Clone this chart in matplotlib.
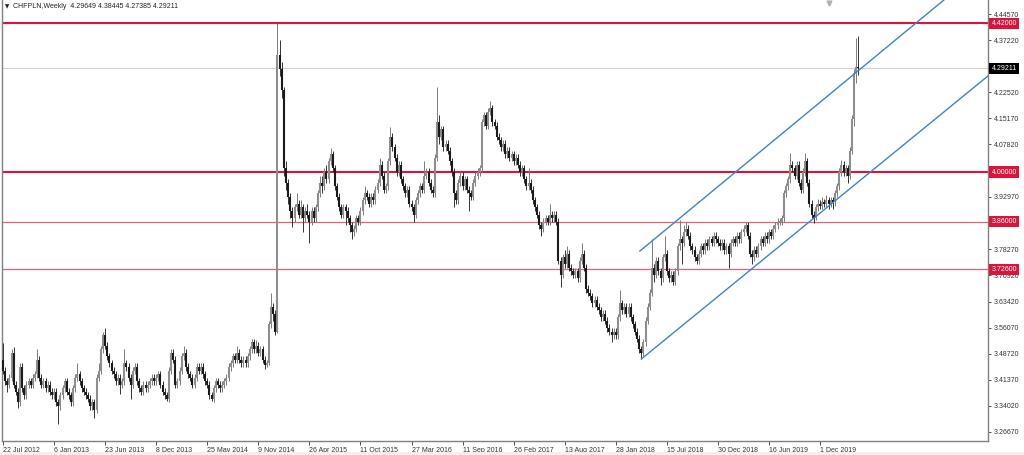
import matplotlib
matplotlib.use("Agg")
import matplotlib.pyplot as plt
import matplotlib.transforms as mtransforms
import numpy as np

plt.rcParams["font.family"] = ["Liberation Sans", "DejaVu Sans"]

# ---------------------------------------------------------------------------
# Data: CHFPLN weekly candles (week 0 = 22 Jul 2012)
# ---------------------------------------------------------------------------
first_open = 3.47
last_open = 4.29649

closes = [
    3.44, 3.41, 3.40, 3.42, 3.49, 3.40, 3.38, 3.35, 3.45, 3.39,
    3.37, 3.40, 3.41, 3.40, 3.42, 3.43, 3.47, 3.42, 3.40, 3.41,
    3.39, 3.40, 3.38, 3.37, 3.38, 3.35, 3.34, 3.37, 3.39, 3.41,
    3.38, 3.37, 3.35, 3.39, 3.42, 3.43, 3.41, 3.39, 3.38, 3.37,
    3.36, 3.34, 3.35, 3.33, 3.42, 3.44, 3.50, 3.54, 3.51, 3.48,
    3.46, 3.44, 3.43, 3.41, 3.42, 3.40, 3.41, 3.46, 3.45, 3.42,
    3.40, 3.44, 3.45, 3.41, 3.39, 3.38, 3.40, 3.39, 3.40, 3.41,
    3.42, 3.41, 3.42, 3.43, 3.40, 3.38, 3.37, 3.36, 3.44, 3.49,
    3.47, 3.40, 3.41, 3.44, 3.48, 3.49, 3.45, 3.43, 3.42, 3.40,
    3.42, 3.45, 3.44, 3.45, 3.43, 3.41, 3.40, 3.37, 3.36, 3.39,
    3.41, 3.40, 3.39, 3.40, 3.41, 3.42, 3.45, 3.46, 3.48, 3.47,
    3.49, 3.47, 3.46, 3.47, 3.46, 3.48, 3.50, 3.52, 3.50, 3.51,
    3.49, 3.50, 3.47, 3.455, 3.46, 3.57, 3.62, 3.60, 3.55, 4.33,
    4.29, 4.23, 4.01, 3.97, 3.93, 3.89, 3.87, 3.90, 3.91, 3.88,
    3.90, 3.87, 3.89, 3.88, 3.86, 3.89, 3.87, 3.90, 3.94, 3.97,
    3.96, 4.00, 3.98, 4.03, 4.05, 4.01, 3.96, 3.93, 3.90, 3.88,
    3.90, 3.89, 3.87, 3.85, 3.83, 3.84, 3.87, 3.86, 3.89, 3.92,
    3.94, 3.93, 3.91, 3.93, 3.92, 3.95, 3.97, 4.02, 3.99, 3.95,
    3.96, 4.03, 4.10, 4.07, 4.04, 4.00, 4.02, 3.98, 3.96, 3.94,
    3.95, 3.91, 3.90, 3.88, 3.92, 3.94, 3.96, 3.95, 3.99, 4.00,
    3.97, 3.95, 3.94, 4.04, 4.14, 4.10, 4.12, 4.07, 4.08, 4.06,
    4.03, 4.00, 3.94, 3.92, 3.97, 3.99, 3.96, 3.98, 3.95, 3.94,
    3.93, 3.97, 3.99, 4.00, 4.01, 4.14, 4.16, 4.13, 4.17, 4.18,
    4.14, 4.13, 4.10, 4.09, 4.07, 4.08, 4.05, 4.06, 4.04, 4.05,
    4.03, 4.04, 4.02, 4.00, 4.01, 3.98, 3.96, 3.97, 3.95, 3.92,
    3.90, 3.88, 3.85, 3.84, 3.86, 3.87, 3.86, 3.88, 3.87, 3.88,
    3.86, 3.75, 3.71, 3.76, 3.74, 3.77, 3.73, 3.72, 3.71, 3.72,
    3.70, 3.75, 3.77, 3.73, 3.67, 3.66, 3.65, 3.63, 3.64, 3.62,
    3.61, 3.59, 3.60, 3.58, 3.56, 3.55, 3.54, 3.55, 3.54, 3.59,
    3.63, 3.61, 3.62, 3.60, 3.62, 3.59, 3.57, 3.55, 3.53, 3.50,
    3.49, 3.52, 3.58, 3.62, 3.66, 3.73, 3.71, 3.75, 3.72, 3.70,
    3.76, 3.77, 3.72, 3.70, 3.71, 3.69, 3.72, 3.79, 3.81, 3.80,
    3.83, 3.84, 3.82, 3.79, 3.78, 3.76, 3.75, 3.77, 3.79, 3.78,
    3.80, 3.79, 3.81, 3.80, 3.82, 3.81, 3.80, 3.79, 3.80, 3.78,
    3.79, 3.77, 3.80, 3.81, 3.80, 3.82, 3.81, 3.83, 3.84, 3.85,
    3.82, 3.77, 3.76, 3.78, 3.77, 3.79, 3.81, 3.80, 3.82, 3.81,
    3.83, 3.82, 3.84, 3.85, 3.86, 3.86, 3.87, 3.94, 3.96, 3.98,
    4.02, 4.01, 3.99, 4.02, 3.97, 3.95, 4.00, 4.03, 3.97, 3.91,
    3.88, 3.87, 3.90, 3.91, 3.905, 3.915, 3.91, 3.92, 3.91, 3.92,
    3.915, 3.94, 3.96, 4.00, 4.02, 4.00, 4.01, 3.99, 4.06, 4.15,
    4.28, 4.2965, 4.29211,
]

highs = [
    3.517, 3.45, 3.42, 3.43, 3.50, 3.505, 3.41, 3.39, 3.46, 3.46,
    3.40, 3.41, 3.42, 3.42, 3.43, 3.44, 3.50, 3.48, 3.43, 3.42,
    3.42, 3.41, 3.41, 3.39, 3.39, 3.39, 3.36, 3.38, 3.40, 3.42,
    3.42, 3.39, 3.38, 3.40, 3.43, 3.46, 3.44, 3.42, 3.40, 3.39,
    3.38, 3.37, 3.36, 3.36, 3.43, 3.46, 3.51, 3.55, 3.56, 3.52,
    3.49, 3.47, 3.45, 3.44, 3.43, 3.43, 3.42, 3.50, 3.47, 3.46,
    3.43, 3.45, 3.46, 3.46, 3.42, 3.40, 3.41, 3.41, 3.41, 3.42,
    3.43, 3.43, 3.43, 3.44, 3.44, 3.41, 3.39, 3.38, 3.45, 3.50,
    3.50, 3.48, 3.42, 3.45, 3.49, 3.51, 3.50, 3.46, 3.44, 3.43,
    3.43, 3.46, 3.46, 3.46, 3.46, 3.44, 3.42, 3.41, 3.38, 3.40,
    3.42, 3.42, 3.41, 3.41, 3.42, 3.43, 3.46, 3.47, 3.49, 3.49,
    3.51, 3.50, 3.48, 3.48, 3.48, 3.49, 3.51, 3.53, 3.53, 3.525,
    3.52, 3.51, 3.51, 3.48, 3.47, 3.58, 3.66, 3.63, 3.61, 4.42,
    4.372, 4.31, 4.24, 4.03, 3.98, 3.94, 3.90, 3.91, 3.94, 3.92,
    3.92, 3.91, 3.90, 3.91, 3.89, 3.90, 3.90, 3.91, 3.95, 3.99,
    3.99, 4.01, 4.02, 4.04, 4.068, 4.06, 4.02, 3.97, 3.94, 3.91,
    3.91, 3.91, 3.90, 3.88, 3.86, 3.85, 3.88, 3.88, 3.90, 3.93,
    3.96, 3.95, 3.94, 3.94, 3.94, 3.96, 3.98, 4.04, 4.03, 4.00,
    3.97, 4.04, 4.127, 4.11, 4.08, 4.05, 4.03, 4.03, 3.99, 3.97,
    3.96, 3.96, 3.92, 3.91, 3.93, 3.95, 3.97, 3.97, 4.03, 4.01,
    4.01, 3.98, 3.96, 4.05, 4.24, 4.16, 4.13, 4.13, 4.09, 4.09,
    4.07, 4.04, 4.01, 3.95, 3.98, 4.00, 4.00, 3.99, 3.99, 3.96,
    3.95, 3.98, 4.00, 4.01, 4.02, 4.15, 4.17, 4.17, 4.18, 4.20,
    4.19, 4.15, 4.14, 4.11, 4.10, 4.09, 4.09, 4.07, 4.07, 4.06,
    4.06, 4.05, 4.05, 4.03, 4.02, 4.02, 3.99, 4.01, 3.98, 3.96,
    3.93, 3.91, 3.89, 3.86, 3.87, 3.88, 3.88, 3.91, 3.89, 3.89,
    3.89, 3.87, 3.76, 3.77, 3.78, 3.79, 3.78, 3.74, 3.73, 3.73,
    3.73, 3.76, 3.80, 3.78, 3.74, 3.68, 3.67, 3.66, 3.65, 3.65,
    3.63, 3.62, 3.61, 3.61, 3.59, 3.57, 3.56, 3.56, 3.56, 3.60,
    3.667, 3.64, 3.63, 3.63, 3.63, 3.63, 3.60, 3.58, 3.56, 3.54,
    3.51, 3.53, 3.59, 3.63, 3.67, 3.81, 3.74, 3.76, 3.76, 3.73,
    3.77, 3.82, 3.78, 3.73, 3.72, 3.72, 3.73, 3.80, 3.865, 3.82,
    3.85, 3.86, 3.85, 3.83, 3.80, 3.79, 3.77, 3.78, 3.80, 3.80,
    3.81, 3.81, 3.82, 3.82, 3.83, 3.83, 3.82, 3.81, 3.81, 3.81,
    3.80, 3.80, 3.81, 3.82, 3.82, 3.83, 3.83, 3.84, 3.85, 3.86,
    3.86, 3.83, 3.78, 3.79, 3.79, 3.80, 3.82, 3.82, 3.83, 3.83,
    3.84, 3.84, 3.85, 3.86, 3.87, 3.87, 3.88, 3.95, 3.97, 3.99,
    4.053, 4.03, 4.02, 4.03, 4.03, 3.98, 4.01, 4.053, 4.04, 3.98,
    3.92, 3.89, 3.91, 3.925, 3.92, 3.93, 3.925, 3.935, 3.93, 3.93,
    3.93, 3.95, 3.97, 4.01, 4.035, 4.03, 4.02, 4.02, 4.07, 4.16,
    4.29, 4.378, 4.38445,
]

lows = [
    3.43, 3.40, 3.38, 3.39, 3.41, 3.39, 3.37, 3.335, 3.34, 3.38,
    3.36, 3.36, 3.39, 3.39, 3.39, 3.41, 3.42, 3.41, 3.39, 3.39,
    3.38, 3.38, 3.37, 3.36, 3.36, 3.34, 3.29, 3.33, 3.36, 3.38,
    3.37, 3.36, 3.34, 3.34, 3.38, 3.41, 3.40, 3.38, 3.37, 3.36,
    3.35, 3.33, 3.33, 3.305, 3.32, 3.41, 3.43, 3.49, 3.50, 3.47,
    3.45, 3.43, 3.42, 3.40, 3.40, 3.375, 3.39, 3.40, 3.44, 3.41,
    3.36, 3.39, 3.43, 3.40, 3.38, 3.37, 3.37, 3.38, 3.38, 3.39,
    3.40, 3.40, 3.40, 3.41, 3.39, 3.37, 3.36, 3.355, 3.35, 3.43,
    3.46, 3.39, 3.39, 3.40, 3.43, 3.47, 3.44, 3.42, 3.41, 3.39,
    3.39, 3.41, 3.43, 3.43, 3.42, 3.40, 3.39, 3.36, 3.355, 3.35,
    3.38, 3.39, 3.38, 3.38, 3.39, 3.40, 3.41, 3.44, 3.45, 3.46,
    3.46, 3.46, 3.45, 3.45, 3.45, 3.45, 3.47, 3.49, 3.49, 3.49,
    3.48, 3.48, 3.46, 3.445, 3.45, 3.455, 3.56, 3.58, 3.54, 3.545,
    4.27, 4.21, 3.99, 3.95, 3.91, 3.87, 3.845, 3.86, 3.89, 3.87,
    3.87, 3.83, 3.86, 3.87, 3.80, 3.85, 3.86, 3.86, 3.89, 3.93,
    3.94, 3.95, 3.97, 3.97, 4.02, 4.00, 3.95, 3.92, 3.89, 3.87,
    3.87, 3.85, 3.86, 3.83, 3.81, 3.82, 3.83, 3.85, 3.85, 3.88,
    3.91, 3.92, 3.90, 3.90, 3.91, 3.91, 3.94, 3.96, 3.98, 3.94,
    3.94, 3.95, 4.02, 4.06, 4.03, 3.99, 3.99, 3.97, 3.95, 3.93,
    3.93, 3.90, 3.89, 3.86, 3.87, 3.91, 3.93, 3.94, 3.94, 3.98,
    3.96, 3.94, 3.93, 3.93, 4.03, 4.08, 4.09, 4.06, 4.06, 4.05,
    4.02, 3.99, 3.90, 3.91, 3.91, 3.96, 3.95, 3.95, 3.94, 3.89,
    3.92, 3.92, 3.96, 3.98, 3.99, 4.00, 4.13, 4.12, 4.12, 4.16,
    4.13, 4.12, 4.09, 4.08, 4.06, 4.06, 4.04, 4.04, 4.03, 4.03,
    4.02, 4.02, 4.01, 3.99, 3.99, 3.97, 3.95, 3.95, 3.94, 3.91,
    3.89, 3.87, 3.84, 3.82, 3.83, 3.85, 3.85, 3.85, 3.86, 3.86,
    3.85, 3.74, 3.675, 3.70, 3.73, 3.73, 3.72, 3.71, 3.70, 3.70,
    3.69, 3.69, 3.74, 3.72, 3.66, 3.65, 3.64, 3.62, 3.62, 3.61,
    3.60, 3.58, 3.58, 3.57, 3.55, 3.54, 3.52, 3.53, 3.53, 3.53,
    3.58, 3.60, 3.60, 3.59, 3.59, 3.58, 3.56, 3.54, 3.52, 3.49,
    3.4725, 3.48, 3.51, 3.57, 3.61, 3.65, 3.69, 3.70, 3.71, 3.68,
    3.69, 3.75, 3.71, 3.69, 3.69, 3.68, 3.68, 3.71, 3.78, 3.74,
    3.79, 3.82, 3.81, 3.78, 3.77, 3.75, 3.74, 3.74, 3.76, 3.77,
    3.77, 3.78, 3.78, 3.79, 3.79, 3.80, 3.79, 3.78, 3.78, 3.77,
    3.77, 3.73, 3.76, 3.79, 3.79, 3.79, 3.80, 3.80, 3.82, 3.83,
    3.81, 3.76, 3.74, 3.75, 3.76, 3.76, 3.78, 3.79, 3.79, 3.80,
    3.80, 3.81, 3.81, 3.83, 3.84, 3.85, 3.85, 3.86, 3.93, 3.95,
    3.97, 4.00, 3.98, 3.98, 3.96, 3.94, 3.94, 3.99, 3.96, 3.90,
    3.87, 3.856, 3.865, 3.89, 3.895, 3.895, 3.90, 3.90, 3.895, 3.90,
    3.895, 3.905, 3.93, 3.95, 3.99, 3.99, 3.99, 3.97, 3.98, 4.05,
    4.13, 4.25, 4.27385,
]

# date axis: one label every 24 weeks
date_tick_index = [0, 24, 48, 72, 96, 120, 144, 168, 192, 216, 240, 264, 288, 312, 336, 360, 384]
date_tick_labels = [
    "22 Jul 2012", "6 Jan 2013", "23 Jun 2013", "8 Dec 2013", "25 May 2014",
    "9 Nov 2014", "26 Apr 2015", "11 Oct 2015", "27 Mar 2016", "11 Sep 2016",
    "26 Feb 2017", "13 Aug 2017", "28 Jan 2018", "15 Jul 2018", "30 Dec 2018",
    "16 Jun 2019", "1 Dec 2019",
]

price_ticks = [4.44570, 4.37220, 4.22520, 4.15170, 4.07820, 3.92970, 3.78270,
               3.70920, 3.63420, 3.56070, 3.48720, 3.41370, 3.34020, 3.26670]
price_tick_labels = ["4.44570", "4.37220", "4.22520", "4.15170", "4.07820", "3.92970",
                     "3.78270", "3.70920", "3.63420", "3.56070", "3.48720", "3.41370",
                     "3.34020", "3.26670"]

strong_levels = [4.42, 4.00]
weak_levels = [3.86, 3.726]
bid_price = 4.29211

# channel rays (bar index, price)
lower_channel_x = [300, 462.9]
lower_channel_y = [3.4725, 4.271]
upper_channel_x = [299.3, 462.9]
upper_channel_y = [3.777, 4.588]

header = "CHFPLN,Weekly  4.29649 4.38445 4.27385 4.29211"

# ---------------------------------------------------------------------------
# Plot
# ---------------------------------------------------------------------------
W, H = 1024, 455
fig = plt.figure(figsize=(W / 100, H / 100), dpi=100)
fig.patches.append(plt.Rectangle((0, 0), 1, 3 / H, transform=fig.transFigure,
                                 facecolor="#f0f0f0", edgecolor="none"))
ax = fig.add_axes([2 / W, 14 / H, 986 / W, 441 / H])

c = np.asarray(closes)
h = np.asarray(highs)
lo = np.asarray(lows)
o = np.concatenate([[first_open], c[:-2], [last_open]])
idx = np.arange(len(c))
up = c >= o

body_lo = np.minimum(o, c)
body_hi = np.maximum(np.maximum(o, c), body_lo + 0.003)

ax.vlines(idx[up], lo[up], h[up], colors="#7c7c7c", linewidth=0.7, zorder=3)
ax.vlines(idx[~up], lo[~up], h[~up], colors="#333333", linewidth=0.7, zorder=3)
ax.vlines(idx[up], body_lo[up], body_hi[up], colors="#8e8e8e", linewidth=1.5, zorder=4)
ax.vlines(idx[~up], body_lo[~up], body_hi[~up], colors="#1a1a1a", linewidth=1.5, zorder=4)

# horizontal levels
for lvl in strong_levels:
    ax.axhline(lvl, color="#dc143c", linewidth=1.5, zorder=2)
for lvl in weak_levels:
    ax.axhline(lvl, color="#e8607c", linewidth=0.9, zorder=2)
ax.axhline(bid_price, color="#d0d0d0", linewidth=0.8, zorder=1)

# channel
ax.plot(lower_channel_x, lower_channel_y, color="#3f84c4", linewidth=1.0, zorder=5)
ax.plot(upper_channel_x, upper_channel_y, color="#3f84c4", linewidth=1.0, zorder=5)

ax.set_xlim(-0.47, 462.9)
ax.set_ylim(3.2412, 4.4852)

for side in ("left", "bottom", "right"):
    ax.spines[side].set_color("#808080")
    ax.spines[side].set_linewidth(1.0)
ax.spines["top"].set_visible(False)

ax.yaxis.tick_right()
ax.set_yticks(price_ticks)
ax.set_yticklabels(price_tick_labels)
ax.tick_params(axis="y", which="both", length=2.5, width=0.6, pad=1.5,
               labelsize=5, colors="#333333")
ax.set_xticks(date_tick_index)
ax.set_xticklabels(date_tick_labels)
ax.tick_params(axis="x", length=3, width=0.6, pad=1.5, labelsize=5, colors="#333333")
for lab in ax.get_xticklabels():
    lab.set_horizontalalignment("left")

# price tags on the right axis
tag_tf = mtransforms.blended_transform_factory(ax.transAxes, ax.transData)
tags = [(4.42, "4.42000", "#dc143c"), (bid_price, "4.29211", "#000000"),
        (4.00, "4.00000", "#dc143c"), (3.86, "3.86000", "#dc143c"),
        (3.726, "3.72600", "#dc143c")]
for val, txt, col in tags:
    ax.text(1.0035, val, txt, transform=tag_tf, ha="left", va="center",
            fontsize=5, color="white", zorder=10, clip_on=False,
            bbox=dict(boxstyle="square,pad=0.3", facecolor=col, edgecolor="none"))

# header and chart-shift marker
fig.text(5 / W, 1 - 7 / H, "\u25bc", fontsize=4, color="#222222", va="center", ha="left",
         family=["DejaVu Sans"])
fig.text(13 / W, 1 - 7 / H, header, fontsize=5, color="#222222", va="center", ha="left")
ax.plot([(829 - 2) / 986], [1 - 3 / 441], marker="v", markersize=3.5, color="#b0b0b0",
        transform=ax.transAxes, clip_on=False, zorder=6)

fig.savefig("out.png", dpi=100)
